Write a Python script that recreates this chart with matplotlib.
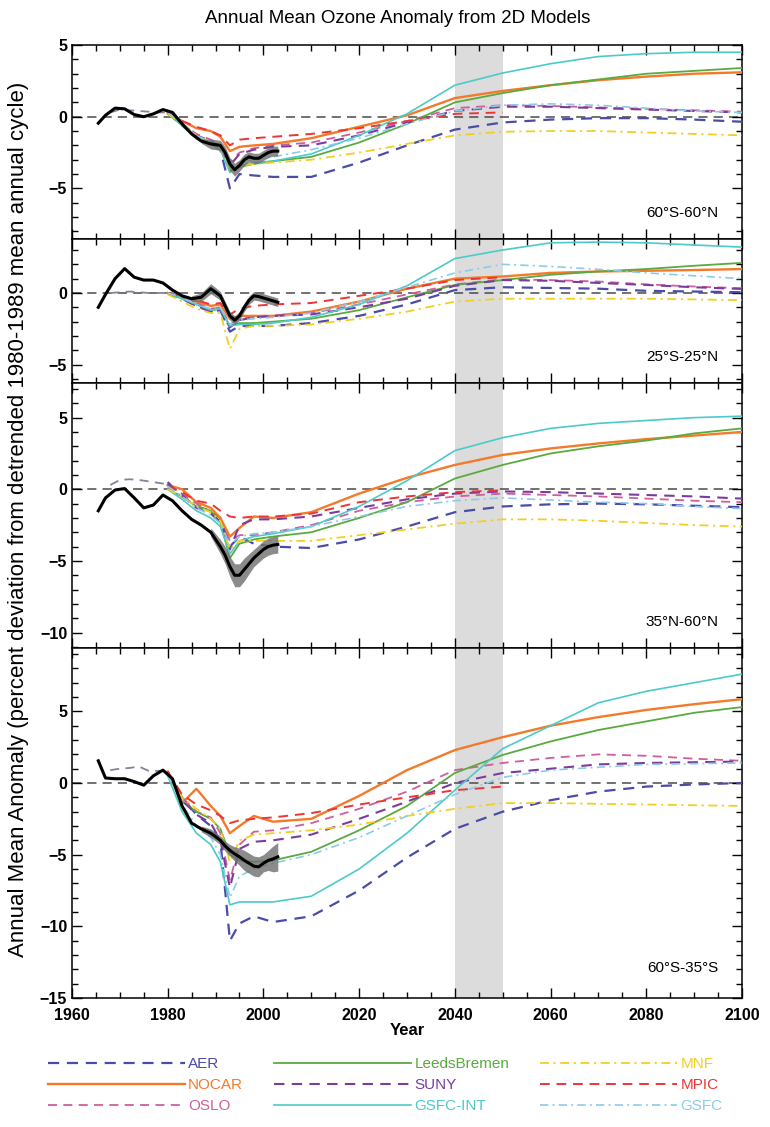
import numpy as np
import matplotlib.pyplot as plt
from matplotlib.ticker import MultipleLocator

plt.rcParams['font.family'] = ['Liberation Sans', 'DejaVu Sans']

nan = np.nan

# model years (all models), observation years, early dashed record
years = [1980, 1983, 1986, 1989, 1991, 1993, 1995, 1998, 2002, 2010,
         2020, 2030, 2040, 2050, 2060, 2070, 2080, 2090, 2100]
obs_years = [1965.5, 1967, 1969, 1971, 1973, 1975, 1977, 1979, 1981, 1983,
             1985, 1987, 1989, 1991, 1992, 1993, 1994, 1995, 1996, 1997,
             1998, 1999, 2000, 2001, 2002, 2003]
early_years = [1968, 1970, 1972, 1974, 1976, 1978, 1980]

models = ['AER', 'NOCAR', 'OSLO', 'LeedsBremen', 'SUNY', 'GSFC-INT', 'MNF', 'MPIC', 'GSFC']
regions = ['60°S-60°N', '25°S-25°N', '35°N-60°N', '60°S-35°S']
ylims = [(-8.5, 5), (-6.3, 3.8), (-11.1, 7.4), (-15, 9.4)]

# ---- 60S-60N
p1_aer = [0.3, -0.6, -1.5, -1.9, -2.3, -5.0, -4.0, -4.1, -4.2, -4.2, -3.2, -2.0, -0.9, -0.4, -0.2, -0.1, -0.1, -0.2, -0.35]
p1_nocar = [0.3, -0.3, -0.8, -1.0, -1.4, -2.4, -2.1, -2.0, -1.9, -1.5, -0.7, 0.1, 1.3, 1.8, 2.2, 2.55, 2.8, 3.0, 3.1]
p1_oslo = [0.3, -0.5, -1.2, -1.6, -2.0, -3.2, -2.5, -2.2, -2.0, -1.8, -1.1, -0.3, 0.6, 0.8, 0.75, 0.65, 0.55, 0.45, 0.35]
p1_leeds = [0.2, -0.6, -1.5, -1.8, -2.2, -3.8, -3.5, -3.3, -3.1, -2.8, -1.8, -0.5, 1.0, 1.65, 2.2, 2.6, 3.0, 3.2, 3.4]
p1_suny = [0.3, -0.5, -1.3, -1.7, -2.1, -3.4, -2.6, -2.3, -2.1, -2.0, -1.3, -0.4, 0.4, 0.7, 0.7, 0.6, 0.5, 0.4, 0.3]
p1_gsfcint = [0.2, -0.6, -1.5, -1.9, -2.3, -3.9, -3.4, -3.2, -3.1, -2.6, -1.3, 0.2, 2.2, 3.05, 3.7, 4.2, 4.4, 4.5, 4.5]
p1_mnf = [0.2, -0.5, -1.3, -1.8, -2.2, -3.6, -3.4, -3.3, -3.2, -3.0, -2.5, -1.9, -1.3, -1.05, -1.0, -1.0, -1.1, -1.2, -1.3]
p1_mpic = [0.3, -0.3, -0.7, -1.0, -1.3, -2.0, -1.6, -1.5, -1.4, -1.2, -0.8, -0.3, 0.2, 0.3, nan, nan, nan, nan, nan]
p1_gsfc = [0.3, -0.5, -1.3, -1.8, -2.1, -3.5, -3.2, -3.0, -2.8, -2.3, -1.5, -0.5, 0.4, 0.8, 0.9, 0.8, 0.6, 0.4, 0.3]
p1_obs = [-0.45, 0.1, 0.6, 0.55, 0.15, 0.0, 0.2, 0.5, 0.3, -0.5, -1.2, -1.7, -1.9, -2.0, -2.5, -3.3,
          -3.7, -3.4, -3.0, -2.8, -2.9, -2.9, -2.7, -2.5, -2.4, -2.4]
p1_unc = [0, 0, 0, 0, 0, 0, 0, 0, 0, 0, 0, 0.15, 0.35, 0.35, 0.4, 0.45,
          0.45, 0.4, 0.4, 0.35, 0.35, 0.35, 0.35, 0.35, 0.35, 0.35]
p1_early = [0.3, 0.5, 0.45, 0.4, 0.35, 0.3, 0.3]

# ---- 25S-25N
p2_aer = [0.0, -0.4, -0.9, -1.3, -1.2, -2.7, -2.3, -2.3, -2.3, -2.1, -1.6, -0.8, 0.2, 0.4, 0.35, 0.3, 0.15, 0.1, 0.05]
p2_nocar = [0.0, -0.3, -0.6, -0.9, -0.8, -1.8, -1.6, -1.6, -1.6, -1.3, -0.6, 0.3, 1.0, 1.15, 1.4, 1.5, 1.55, 1.6, 1.67]
p2_oslo = [0.0, -0.3, -0.7, -1.1, -1.0, -2.2, -1.8, -1.7, -1.6, -1.4, -0.8, -0.1, 0.6, 0.95, 0.9, 0.8, 0.6, 0.45, 0.33]
p2_leeds = [0.0, -0.4, -0.8, -1.2, -1.1, -2.3, -2.1, -2.1, -2.0, -1.8, -1.2, -0.3, 0.56, 0.9, 1.27, 1.5, 1.67, 1.9, 2.1]
p2_suny = [0.0, -0.4, -0.9, -1.3, -1.2, -2.4, -1.9, -1.7, -1.6, -1.5, -1.0, -0.4, 0.5, 0.9, 0.85, 0.7, 0.56, 0.4, 0.28]
p2_gsfcint = [0.0, -0.4, -0.8, -1.2, -1.1, -2.3, -2.2, -2.2, -2.1, -1.7, -0.8, 0.5, 2.4, 3.0, 3.5, 3.55, 3.5, 3.35, 3.2]
p2_mnf = [-0.1, -0.6, -1.1, -1.4, -1.4, -3.9, -2.5, -2.3, -2.3, -2.2, -1.8, -1.3, -0.6, -0.4, -0.4, -0.4, -0.4, -0.45, -0.5]
p2_mpic = [0.0, -0.2, -0.5, -0.8, -0.7, -1.5, -1.1, -0.9, -0.8, -0.7, -0.2, 0.3, 0.9, 1.1, nan, nan, nan, nan, nan]
p2_gsfc = [0.0, -0.3, -0.8, -1.1, -1.0, -2.2, -1.9, -1.8, -1.7, -1.4, -0.6, 0.4, 1.4, 2.0, 1.85, 1.65, 1.4, 1.2, 1.0]
p2_obs = [-1.0, -0.1, 1.0, 1.7, 1.1, 0.9, 0.9, 0.7, 0.2, -0.2, -0.4, -0.3, 0.3, -0.2, -0.9, -1.6,
          -1.9, -1.6, -1.0, -0.5, -0.2, -0.25, -0.35, -0.45, -0.55, -0.65]
p2_unc = [0, 0, 0, 0, 0, 0, 0, 0, 0, 0, 0.2, 0.3, 0.35, 0.3, 0.3, 0.3,
          0.3, 0.3, 0.3, 0.3, 0.3, 0.3, 0.3, 0.3, 0.3, 0.3]
p2_early = [0.0, 0.05, 0.1, 0.05, 0.0, 0.0, 0.0]

# ---- 35N-60N
p3_aer = [0.5, -0.5, -1.2, -1.5, -2.0, -4.0, -3.3, -3.8, -4.0, -4.1, -3.5, -2.6, -1.6, -1.2, -1.05, -1.0, -1.05, -1.15, -1.25]
p3_nocar = [0.3, 0.0, -0.9, -1.3, -2.0, -3.3, -2.7, -1.9, -2.0, -1.6, -0.3, 0.8, 1.7, 2.4, 2.85, 3.2, 3.5, 3.75, 4.0]
p3_oslo = [0.3, -0.3, -1.0, -1.6, -2.2, -3.6, -3.2, -3.2, -3.0, -2.5, -1.5, -0.9, -0.5, -0.3, -0.4, -0.5, -0.65, -0.8, -0.9]
p3_leeds = [0.0, -0.5, -1.2, -1.5, -2.3, -4.8, -3.8, -3.5, -3.3, -3.0, -2.0, -0.9, 0.75, 1.7, 2.5, 3.0, 3.4, 3.9, 4.25]
p3_suny = [0.4, -0.4, -1.3, -1.7, -2.3, -4.2, -2.5, -2.1, -2.1, -1.9, -1.3, -0.7, -0.3, -0.15, -0.2, -0.3, -0.4, -0.5, -0.65]
p3_gsfcint = [0.0, -0.7, -1.5, -2.0, -2.6, -4.5, -3.6, -3.3, -3.1, -2.6, -1.2, 0.6, 2.7, 3.6, 4.25, 4.6, 4.8, 5.0, 5.1]
p3_mnf = [0.0, -0.5, -1.2, -1.6, -2.2, -4.2, -3.6, -3.6, -3.6, -3.6, -3.2, -2.8, -2.4, -2.1, -2.1, -2.2, -2.35, -2.5, -2.6]
p3_mpic = [0.2, -0.2, -0.8, -1.0, -1.5, -1.9, -2.0, -1.9, -1.9, -1.7, -0.9, -0.5, -0.2, -0.07, nan, nan, nan, nan, nan]
p3_gsfc = [0.2, -0.5, -1.3, -1.8, -2.4, -3.9, -3.3, -3.1, -3.0, -2.6, -1.9, -1.2, -0.8, -0.6, -0.75, -0.9, -1.0, -1.2, -1.35]
p3_obs = [-1.5, -0.6, -0.05, 0.05, -0.6, -1.3, -1.1, -0.4, -0.8, -1.5, -2.1, -2.5, -3.0, -4.0, -4.6, -5.4,
          -6.0, -6.0, -5.6, -5.2, -4.8, -4.5, -4.2, -4.0, -3.9, -3.85]
p3_unc = [0, 0, 0, 0, 0, 0, 0, 0, 0, 0, 0, 0, 0.3, 0.5, 0.6, 0.7,
          0.8, 0.8, 0.8, 0.7, 0.6, 0.6, 0.6, 0.6, 0.6, 0.6]
p3_early = [0.3, 0.65, 0.7, 0.65, 0.55, 0.45, 0.35]

# ---- 60S-35S
p4_aer = [0.7, -1.0, -2.2, -3.0, -4.0, -11.0, -9.8, -9.3, -9.7, -9.3, -7.5, -5.2, -3.2, -2.0, -1.2, -0.6, -0.25, -0.1, 0.0]
p4_nocar = [0.8, -1.4, -0.4, -1.6, -2.3, -3.5, -3.0, -2.3, -2.7, -2.5, -0.9, 0.9, 2.3, 3.2, 4.0, 4.6, 5.1, 5.5, 5.85]
p4_oslo = [0.8, -1.0, -2.0, -2.4, -3.5, -6.8, -4.3, -3.4, -3.3, -2.8, -1.8, -0.6, 0.9, 1.4, 1.75, 2.0, 1.9, 1.7, 1.55]
p4_leeds = [0.7, -1.3, -2.0, -2.5, -3.2, -5.0, -5.4, -5.5, -5.4, -4.8, -3.3, -1.6, 0.7, 1.96, 2.9, 3.7, 4.3, 4.9, 5.3]
p4_suny = [0.8, -1.2, -2.2, -2.8, -4.0, -7.3, -4.6, -4.1, -4.0, -3.6, -2.5, -1.3, 0.0, 0.7, 1.0, 1.3, 1.4, 1.45, 1.5]
p4_gsfcint = [0.5, -2.0, -3.5, -4.3, -5.5, -8.5, -8.3, -8.3, -8.3, -7.9, -6.0, -3.5, -0.5, 2.4, 4.0, 5.6, 6.4, 7.0, 7.6]
p4_mnf = [0.6, -1.0, -1.8, -2.5, -3.2, -5.5, -4.0, -3.6, -3.5, -3.3, -2.9, -2.3, -1.8, -1.4, -1.4, -1.45, -1.5, -1.55, -1.6]
p4_mpic = [0.8, -0.8, -1.5, -1.9, -2.3, -2.8, -2.6, -2.5, -2.4, -2.1, -1.5, -1.0, -0.5, -0.25, nan, nan, nan, nan, nan]
p4_gsfc = [0.6, -1.5, -3.0, -3.8, -5.0, -8.0, -6.5, -6.0, -5.6, -5.0, -3.8, -2.3, -0.8, 0.4, 0.9, 1.1, 1.3, 1.35, 1.4]
p4_obs = [1.55, 0.35, 0.3, 0.3, 0.1, -0.15, 0.5, 0.9, 0.3, -1.6, -2.8, -3.2, -3.5, -4.0, -4.4, -4.7,
          -4.95, -5.15, -5.4, -5.6, -5.8, -5.85, -5.6, -5.4, -5.3, -5.15]
p4_unc = [0, 0, 0, 0, 0, 0, 0, 0, 0, 0, 0, 0.2, 0.3, 0.3, 0.35, 0.4,
          0.5, 0.6, 0.7, 0.7, 0.7, 0.7, 0.6, 0.7, 0.9, 1.0]
p4_early = [0.9, 1.0, 1.05, 1.15, 0.85, 0.85, 0.8]

panels = [
    [p1_aer, p1_nocar, p1_oslo, p1_leeds, p1_suny, p1_gsfcint, p1_mnf, p1_mpic, p1_gsfc],
    [p2_aer, p2_nocar, p2_oslo, p2_leeds, p2_suny, p2_gsfcint, p2_mnf, p2_mpic, p2_gsfc],
    [p3_aer, p3_nocar, p3_oslo, p3_leeds, p3_suny, p3_gsfcint, p3_mnf, p3_mpic, p3_gsfc],
    [p4_aer, p4_nocar, p4_oslo, p4_leeds, p4_suny, p4_gsfcint, p4_mnf, p4_mpic, p4_gsfc],
]
obs = [p1_obs, p2_obs, p3_obs, p4_obs]
unc = [p1_unc, p2_unc, p3_unc, p4_unc]
early = [p1_early, p2_early, p3_early, p4_early]

dash = (0, (5, 3.5))
dashdot = (0, (5, 2.5, 1.2, 2.5))
styles = {
    'AER': dict(color='#4b4ba8', ls=dash, lw=1.6),
    'NOCAR': dict(color='#f47a2a', ls='-', lw=1.7),
    'OSLO': dict(color='#cf5e9c', ls=dash, lw=1.3),
    'LeedsBremen': dict(color='#5aaa40', ls='-', lw=1.3),
    'SUNY': dict(color='#7a3c9e', ls=dash, lw=1.5),
    'GSFC-INT': dict(color='#4ccaca', ls='-', lw=1.2),
    'MNF': dict(color='#f2cf22', ls=dashdot, lw=1.3),
    'MPIC': dict(color='#ee3535', ls=dash, lw=1.4),
    'GSFC': dict(color='#8ccbe8', ls=dashdot, lw=1.2),
}

fig = plt.figure(figsize=(7.7, 11.27), dpi=100)
heights = [hi - lo for lo, hi in ylims]
gs = fig.add_gridspec(4, 1, height_ratios=heights, hspace=0,
                      left=0.0935, right=0.9636, top=0.960, bottom=0.1145)

region_y = [0.13, 0.18, 0.098, 0.086]
handles = []
for i in range(4):
    ax = fig.add_subplot(gs[i])
    ax.axvspan(2040, 2050, color='#dcdcdc', lw=0, zorder=0)
    ax.axhline(0, color='#4a4a4a', ls=(0, (6, 4)), lw=1.1, zorder=1)
    ax.plot(early_years, early[i], color='#8a7f9c', ls=dash, lw=1.3, zorder=2)
    for name, vals in zip(models, panels[i]):
        ln, = ax.plot(years, vals, label=name, zorder=3, **styles[name])
        if i == 0:
            handles.append(ln)
    o = np.array(obs[i])
    u = np.array(unc[i])
    ax.fill_between(obs_years, o - u, o + u, where=u > 0, color='#6e6e6e',
                    alpha=0.8, lw=0, zorder=4)
    ax.plot(obs_years, o, color='black', lw=2.2, zorder=5)

    ax.set_xlim(1960, 2100)
    ax.set_ylim(*ylims[i])
    ax.xaxis.set_major_locator(MultipleLocator(20))
    ax.xaxis.set_minor_locator(MultipleLocator(5))
    ax.yaxis.set_major_locator(MultipleLocator(5))
    ax.yaxis.set_minor_locator(MultipleLocator(1))
    ax.tick_params(which='both', direction='in', top=True, right=True,
                   labelsize=11.5, width=1)
    ax.tick_params(which='major', length=7)
    ax.tick_params(which='minor', length=4)
    ax.tick_params(axis='x', pad=7)
    for lab in ax.get_yticklabels():
        lab.set_fontweight('bold')
    if i < 3:
        ax.tick_params(labelbottom=False)
    else:
        for lab in ax.get_xticklabels():
            lab.set_fontweight('bold')
        ax.set_xlabel('Year', fontsize=12, fontweight='bold', labelpad=0)
    for sp in ax.spines.values():
        sp.set_linewidth(1.1)
    ax.text(0.965, region_y[i], regions[i], transform=ax.transAxes,
            ha='right', va='center', fontsize=11)

fig.text(0.516, 0.984, 'Annual Mean Ozone Anomaly from 2D Models',
         ha='center', va='center', fontsize=13.5)
fig.text(0.024, 0.539,
         'Annual Mean Anomaly (percent deviation from detrended 1980-1989 mean annual cycle)',
         rotation=90, ha='center', va='center', fontsize=16)

fig.legend(handles=handles, loc='center', bbox_to_anchor=(0.5, 0.037), ncol=3,
           frameon=False, fontsize=11, handlelength=9, handletextpad=0.2,
           columnspacing=2.0, labelspacing=0.45, labelcolor='linecolor')

fig.savefig('out.png', dpi=100)
